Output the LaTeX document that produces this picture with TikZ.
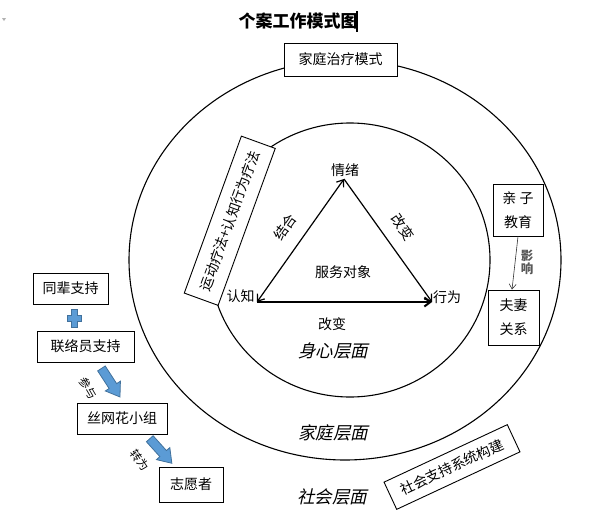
\documentclass[tikz,border=0pt]{standalone}
\usepackage{fontspec}
\setmainfont{Noto Sans CJK SC}
\newfontfamily\itcjk[FakeSlant=0.22]{Noto Sans CJK SC}
\usetikzlibrary{arrows.meta}
\definecolor{blfill}{RGB}{91,155,213}
\definecolor{bldraw}{RGB}{65,113,156}
\begin{document}
\begin{tikzpicture}[x=1pt,y=-1pt,
  box/.style={draw=black,fill=white,line width=0.9pt,inner sep=0pt,align=center,font=\fontsize{14}{24}\selectfont},
  lbl/.style={inner sep=0pt,font=\fontsize{14}{16}\selectfont},
  small/.style={inner sep=0pt,font=\fontsize{11.5}{12}\selectfont},
  layer/.style={inner sep=0pt,font=\itcjk\fontsize{17.5}{20}\selectfont},
  ring/.style={draw=black,line width=1.1pt},
  barb/.tip={Straight Barb[length=6pt,width=9pt]},
  tri/.style={line width=1.2pt,-barb},
  blockarrow/.style={draw=bldraw,fill=blfill,line width=0.8pt,line join=miter},
]
\useasboundingbox (0,0) rectangle (599,530);

% title and Word artefacts
\node[inner sep=0pt,font=\fontsize{17}{20}\selectfont\bfseries] (title) at (298,21) {个案工作模式图};
\draw[line width=1.6pt] (357,11) -- (357,32);
\fill[gray!60] (2,18) -- (6,18) -- (4,21) -- cycle;

% rings
\draw[ring] (345,260) ellipse [x radius=216pt, y radius=200pt];
\draw[ring] (350,260) ellipse [x radius=140pt, y radius=137pt];

% boxes on the rings
\node[box,minimum width=113pt,minimum height=33pt] (jtzl) at (340.5,59.5) {家庭治疗模式};
\node[box,minimum width=167pt,minimum height=36pt,rotate=70] (ydlf) at (229.75,220.75) {运动疗法+认知行为疗法};
\node[box,minimum width=136pt,minimum height=30pt,rotate=25] (shzc) at (452,467) {社会支持系统构建};

% triangle
\coordinate (A) at (344,179);
\coordinate (L) at (257,302);
\coordinate (R) at (432,302);
\draw[tri,barb-barb] (L) -- (A);
\draw[tri] (A) -- (R);
\draw[tri,line width=2pt] (L) -- (R);

\node[lbl] (qx) at (345,170) {情绪};
\node[lbl] (rz) at (240.5,296) {认知};
\node[lbl] (xw) at (447,297) {行为};
\node[lbl] (fwdx) at (343,272.5) {服务对象};
\node[lbl,rotate=55] (jh) at (285,227) {结合};
\node[lbl,rotate=-55] (gb1) at (403,227) {改变};
\node[lbl] (gb2) at (332,324) {改变};

% layer labels
\node[layer] (sx) at (333,351) {身心层面};
\node[layer] (jt) at (333,433) {家庭层面};
\node[layer] (sh) at (332,497) {社会层面};

% right boxes
\node[box,minimum width=50pt,minimum height=52pt] (qz) at (518,210) {亲 子\\教育};
\node[box,minimum width=51pt,minimum height=55pt] (fq) at (513.5,317.5) {夫妻\\关系};
\draw[line width=0.6pt,draw=black!80,-{Straight Barb[length=5pt,width=7pt]}] (qz.south) -- ([xshift=-1.5pt]fq.north);
\node[inner sep=0pt,align=center,text=black!65,font=\fontsize{12.5}{13}\selectfont\bfseries] (yx) at (527,262) {影\\响};

% left chain
\node[box,minimum width=75pt,minimum height=31pt] (tb) at (70.5,288.5) {同辈支持};
\node[box,minimum width=97pt,minimum height=31pt] (lly) at (85.5,346.5) {联络员支持};
\node[box,minimum width=90pt,minimum height=31pt] (swh) at (122,418.5) {丝网花小组};
\node[box,minimum width=64pt,minimum height=35pt] (zyz) at (191,484.5) {志愿者};

% plus sign
\draw[blockarrow] (71,309) -- (77,309) -- (77,315) -- (81,315) -- (81,321) -- (77,321) -- (77,327) -- (71,327) -- (71,321) -- (67,321) -- (67,315) -- (71,315) -- cycle;

% blue block arrows
\begin{scope}[shift={(110.7,382.7)},rotate=-57]
  \draw[blockarrow] (-17,-4.5) -- (4,-4.5) -- (4,-9) -- (17,0) -- (4,9) -- (4,4.5) -- (-17,4.5) -- cycle;
\end{scope}
\begin{scope}[shift={(160.8,451)},rotate=-48]
  \draw[blockarrow] (-16.5,-4.5) -- (3.5,-4.5) -- (3.5,-9) -- (16.5,0) -- (3.5,9) -- (3.5,4.5) -- (-16.5,4.5) -- cycle;
\end{scope}
\node[small,rotate=-60] (cy) at (88.5,388) {参与};
\node[small,rotate=-55] (zw) at (140,460) {转为};
\end{tikzpicture}
\end{document}
